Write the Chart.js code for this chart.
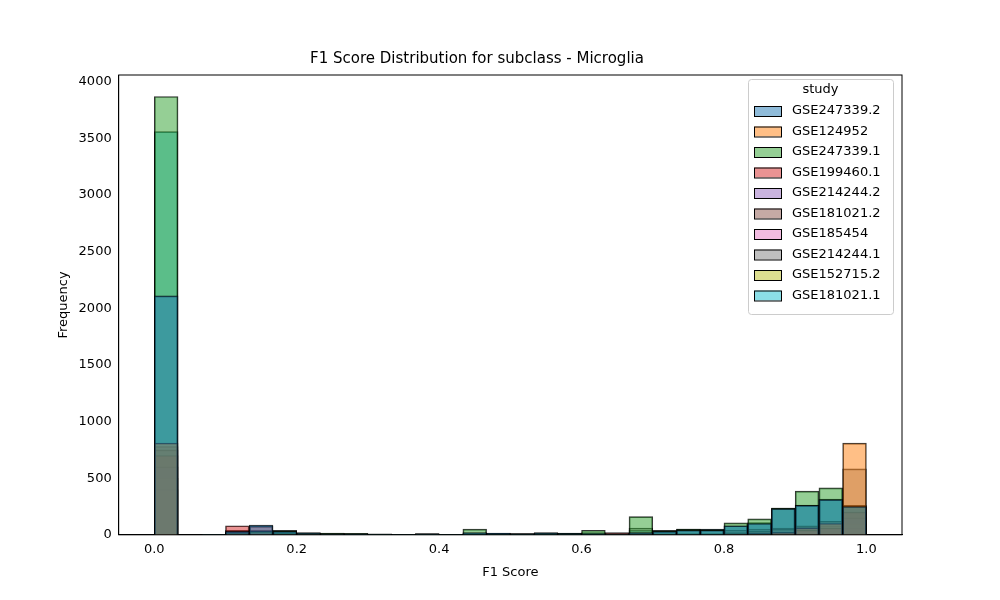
<!DOCTYPE html>
<html>
<head>
<script src="https://cdn.jsdelivr.net/npm/chart.js@4"></script>
<style>body{margin:0;background:#fff}#wrap{width:1000px;height:600px}</style>
</head>
<body>
<div id="wrap"><canvas id="myChart"></canvas></div>
<script>
const studies = ['GSE247339.2','GSE124952','GSE247339.1','GSE199460.1','GSE214244.2','GSE181021.2','GSE185454','GSE214244.1','GSE152715.2','GSE181021.1'];
const colors = ['31,119,180','255,127,14','44,160,44','214,39,40','148,103,189','140,86,75','227,119,194','127,127,127','188,189,34','23,190,207'];
const binCenters = Array.from({length: 30}, (_, i) => (i + 0.5) / 30);

const gse247339_2 = [2110,0,5,30,85,30,15,10,8,5,3,8,3,20,15,10,15,12,10,5,20,30,40,40,80,100,230,260,310,250];
const gse124952   = [810,0,0,0,0,0,0,0,0,0,0,0,0,0,0,0,0,0,0,0,0,0,0,0,5,10,20,60,100,810];
const gse247339_1 = [3870,0,3,20,30,40,20,15,12,8,3,10,3,50,10,8,20,15,40,10,160,40,50,45,105,140,237,385,415,250];
const gse199460_1 = [700,0,0,80,75,10,5,0,0,0,0,0,0,0,0,0,0,0,0,20,10,0,0,0,10,10,20,40,60,200];
const gse214244_2 = [600,0,0,40,30,5,0,0,0,0,0,0,0,0,0,0,0,0,0,0,5,0,0,0,10,10,20,40,60,150];
const gse181021_2 = [750,0,0,10,20,10,5,5,0,0,0,0,0,0,0,0,0,0,0,5,10,5,5,5,20,30,50,80,120,260];
const gse185454   = [400,0,0,0,0,0,0,0,0,0,0,0,0,0,0,0,0,0,0,0,0,0,0,0,0,0,0,10,20,60];
const gse214244_1 = [780,0,0,20,20,10,5,5,0,0,0,0,0,0,0,0,0,0,0,5,60,10,10,10,40,50,60,70,80,582];
const gse152715_2 = [500,0,0,0,0,0,0,0,0,0,0,0,0,0,0,0,0,0,0,0,0,0,0,0,5,5,10,20,30,100];
const gse181021_1 = [3560,0,3,25,40,30,15,10,8,5,3,8,3,15,12,10,15,12,20,5,40,30,50,50,80,108,237,263,315,250];

const series = [gse247339_2,gse124952,gse247339_1,gse199460_1,gse214244_2,gse181021_2,gse185454,gse214244_1,gse152715_2,gse181021_1];

const datasets = series.map((vals, k) => ({
    label: studies[k],
    data: vals.map((v, i) => ({x: binCenters[i], y: v})),
    backgroundColor: 'rgba(' + colors[k] + ',0.5)',
    borderColor: 'rgba(0,0,0,0.8)',
    borderWidth: 1,
    barPercentage: 1,
    categoryPercentage: 1,
    grouped: false,
}));

// matplotlib-style legend box inside the axes
const boxLegend = {
    id: 'boxLegend',
    afterDraw(chart) {
        const ctx = chart.ctx;
        const x = 748, y = 79, w = 145, rowH = 20.5;
        ctx.save();
        ctx.fillStyle = 'rgba(255,255,255,0.8)';
        ctx.strokeStyle = '#ccc';
        ctx.lineWidth = 1;
        ctx.beginPath();
        ctx.roundRect(x + 0.5, y + 0.5, w, 235, 3);
        ctx.fill(); ctx.stroke();
        ctx.font = '13px "DejaVu Sans"';
        ctx.fillStyle = '#000';
        ctx.textAlign = 'center';
        ctx.textBaseline = 'middle';
        ctx.fillText('study', x + w / 2, y + 11);
        ctx.textAlign = 'left';
        studies.forEach((s, k) => {
            const ry = y + 32 + k * rowH;
            ctx.fillStyle = 'rgba(' + colors[k] + ',0.5)';
            ctx.fillRect(x + 6, ry - 5, 27, 10);
            ctx.strokeStyle = '#000';
            ctx.strokeRect(x + 6.5, ry - 4.5, 27, 10);
            ctx.fillStyle = '#000';
            ctx.fillText(s, x + 44, ry);
        });
        ctx.restore();
    }
};

const config = {
    type: 'bar',
    data: {datasets: datasets},
    options: {
        responsive: false,
        animation: false,
        layout: {padding: {left: 52, right: 98, top: 50, bottom: 16}},
        plugins: {
            legend: {display: false},
            tooltip: {enabled: false},
            title: {
                display: true,
                text: 'F1 Score Distribution for subclass - Microglia',
                color: '#000',
                font: {family: 'DejaVu Sans', size: 15, weight: 'normal'},
                padding: {top: 0, bottom: 7}
            }
        },
        scales: {
            x: {
                type: 'linear',
                offset: false,
                min: -0.05, max: 1.05,
                afterBuildTicks: (ax) => { ax.ticks = [0,0.2,0.4,0.6,0.8,1.0].map(v => ({value: v})); },
                grid: {display: false, offset: false, tickLength: 4, tickColor: '#000'},
                border: {color: '#000'},
                ticks: {color: '#000', font: {family: 'DejaVu Sans', size: 13}, callback: (v) => v.toFixed(1)},
                title: {display: true, text: 'F1 Score', color: '#000', font: {family: 'DejaVu Sans', size: 13}}
            },
            y: {
                min: 0, max: 4060,
                afterBuildTicks: (ax) => { ax.ticks = [0,500,1000,1500,2000,2500,3000,3500,4000].map(v => ({value: v})); },
                grid: {display: false, tickLength: 4, tickColor: '#000'},
                border: {color: '#000'},
                ticks: {color: '#000', font: {family: 'DejaVu Sans', size: 13}, callback: (v) => String(v)},
                title: {display: true, text: 'Frequency', color: '#000', font: {family: 'DejaVu Sans', size: 13}}
            }
        }
    },
    plugins: [boxLegend, {
        id: 'frame',
        afterDraw(chart) {
            const a = chart.chartArea, ctx = chart.ctx;
            ctx.save(); ctx.strokeStyle = '#000'; ctx.lineWidth = 1;
            ctx.strokeRect(a.left, a.top, a.right - a.left, a.bottom - a.top);
            ctx.restore();
        }
    }]
};

const canvas = document.getElementById('myChart');
canvas.width = 1000; canvas.height = 600;
const myChart = new Chart(canvas, config);
</script>
</body>
</html>
